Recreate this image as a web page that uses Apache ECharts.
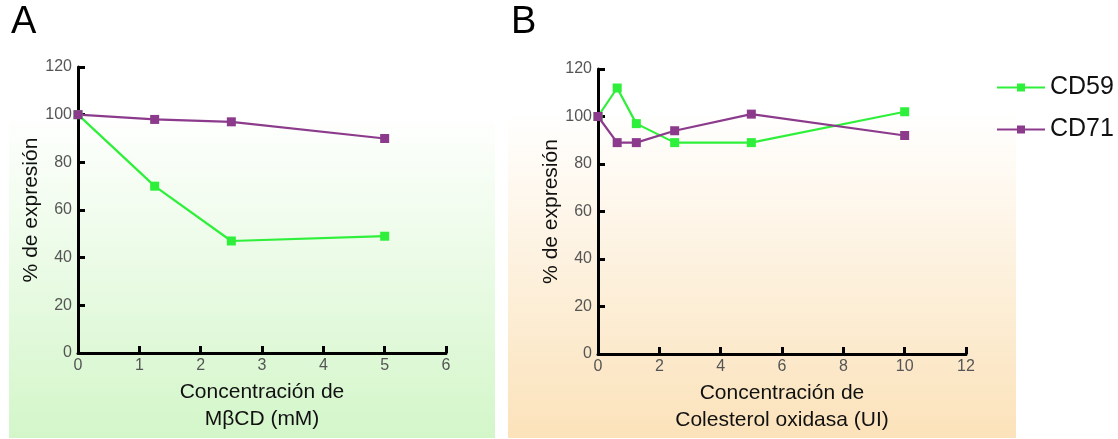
<!DOCTYPE html>
<html>
<head>
<meta charset="utf-8">
<script src="https://cdn.jsdelivr.net/npm/echarts@6/dist/echarts.min.js"></script>
<style>
html,body{margin:0;padding:0;background:#fff;}
#c{width:1118px;height:439px;}
</style>
</head>
<body>
<div id="c"></div>
<script>
// Panel A: MβCD concentration (mM)
const xA = [0, 1.25, 2.5, 5];
const cd59A = [100, 70, 47, 49];
const cd71A = [100, 98, 97, 90];
// Panel B: Colesterol oxidasa (UI)
const xB = [0, 0.625, 1.25, 2.5, 5, 10];
const cd59B = [100, 112, 97, 89, 89, 102];
const cd71B = [100, 89, 89, 94, 101, 92];

const seriesNames = ['CD59', 'CD71'];
const panelLabels = ['A', 'B'];
const xTitleA = 'Concentración de\nMβCD (mM)';
const xTitleB = 'Concentración de\nColesterol oxidasa (UI)';
const yTitle = '% de expresión';

const GREEN = '#2ef03a';
const PURPLE = '#8c3a8c';
const FONT = 'Liberation Sans, Arial, sans-serif';

function pairs(xs, ys){ return xs.map((x,i)=>[x, ys[i]]); }

const chart = echarts.init(document.getElementById('c'));

function xAxisCfg(gi, max, interval, name){
  return {
    type:'value', gridIndex: gi, min:0, max:max, interval:interval,
    name:name, nameLocation:'middle', nameGap:26,
    nameTextStyle:{fontFamily:FONT, fontSize:21, color:'#111', lineHeight:27},
    axisLine:{onZero:false, lineStyle:{color:'#000', width:3}},
    axisTick:{inside:true, length:7, lineStyle:{color:'#000', width:3}},
    axisLabel:{margin:5, fontFamily:FONT, fontSize:16, color:'#555'},
    splitLine:{show:false}
  };
}
function yAxisCfg(gi, gap){
  return {
    type:'value', gridIndex: gi, min:0, max:120, interval:20,
    name:yTitle, nameLocation:'middle', nameGap:gap, nameRotate:90,
    nameTextStyle:{fontFamily:FONT, fontSize:21, color:'#111'},
    axisLine:{show:true, lineStyle:{color:'#000', width:3}},
    axisTick:{show:true, inside:true, length:7, lineStyle:{color:'#000', width:3}},
    axisLabel:{margin:6, fontFamily:FONT, fontSize:16, color:'#555'},
    splitLine:{show:false}
  };
}
function lineSeries(name, color, xi, yi, data){
  return {
    name:name, type:'line', xAxisIndex:xi, yAxisIndex:yi, data:data,
    symbol:'rect', symbolSize:9, showSymbol:true,
    lineStyle:{color:color, width:2.2}, itemStyle:{color:color},
    emphasis:{disabled:true}, animation:false
  };
}

const option = {
  animation:false,
  graphic:[
    {type:'rect', z:-10, shape:{x:9, y:40, width:486, height:398},
     style:{fill:new echarts.graphic.LinearGradient(0,0,0,1,[
       {offset:0,color:'#ffffff'},{offset:0.18,color:'#ffffff'},{offset:1,color:'#d3f6c9'}])}},
    {type:'rect', z:-10, shape:{x:508, y:40, width:508, height:398},
     style:{fill:new echarts.graphic.LinearGradient(0,0,0,1,[
       {offset:0,color:'#ffffff'},{offset:0.18,color:'#ffffff'},{offset:1,color:'#fbe2ba'}])}},
    {type:'text', left:11, top:4, style:{text:panelLabels[0], fontFamily:FONT, fontSize:38, fill:'#000'}},
    {type:'text', left:511, top:4, style:{text:panelLabels[1], fontFamily:FONT, fontSize:38, fill:'#000'}}
  ],
  legend:{
    orient:'vertical', left:991, top:70, itemGap:17,
    itemWidth:48, itemHeight:10,
    data:seriesNames,
    textStyle:{fontFamily:FONT, fontSize:25, color:'#111'},
    selectedMode:false
  },
  grid:[
    {left:78, top:67, width:368, height:286},
    {left:598, top:69, width:368, height:285}
  ],
  xAxis:[
    xAxisCfg(0, 6, 1, xTitleA),
    xAxisCfg(1, 12, 2, xTitleB)
  ],
  yAxis:[
    yAxisCfg(0, 29),
    yAxisCfg(1, 28)
  ],
  series:[
    lineSeries(seriesNames[0], GREEN, 0, 0, pairs(xA, cd59A)),
    lineSeries(seriesNames[1], PURPLE, 0, 0, pairs(xA, cd71A)),
    lineSeries(seriesNames[0], GREEN, 1, 1, pairs(xB, cd59B)),
    lineSeries(seriesNames[1], PURPLE, 1, 1, pairs(xB, cd71B))
  ]
};
chart.setOption(option);
</script>
</body>
</html>
